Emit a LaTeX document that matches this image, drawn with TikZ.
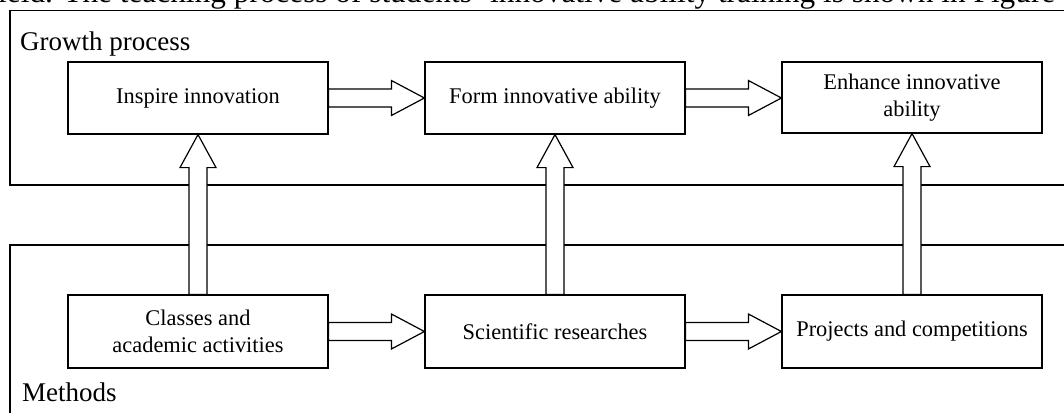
\documentclass[tikz,border=0pt]{standalone}
\usepackage{fontspec}
\setmainfont{Liberation Serif}
\usetikzlibrary{calc}
\newcommand\hollowH[2]{\filldraw[hollow] let \p1=(#1.east), \p2=(#2.west) in
  (\x1,\y1+9pt) -- (\x2-33pt,\y1+9pt) -- (\x2-33pt,\y1+17.5pt) -- (\x2,\y1)
  -- (\x2-33pt,\y1-17.5pt) -- (\x2-33pt,\y1-9pt) -- (\x1,\y1-9pt) -- cycle;}
\newcommand\hollowV[2]{\filldraw[hollow] let \p1=(#1.north), \p2=(#2.south) in
  (\x1-9pt,\y1) -- (\x1-9pt,\y2-33pt) -- (\x1-18pt,\y2-33pt) -- (\x1,\y2)
  -- (\x1+18pt,\y2-33pt) -- (\x1+9pt,\y2-33pt) -- (\x1+9pt,\y1) -- cycle;}
\begin{document}
\begin{tikzpicture}[x=1pt,y=-1pt,
  box/.style={draw, line width=1.2pt, minimum width=260pt, minimum height=72pt,
    align=center, inner sep=0pt, font=\fontsize{22.4}{26.5}\selectfont},
  hollow/.style={draw, fill=white, line width=1.2pt, line join=miter},
  frameline/.style={line width=1.4pt},
  lbl/.style={anchor=base west, inner sep=0pt, font=\fontsize{27}{32}\selectfont}]
\useasboundingbox (0,0) rectangle (1064,412);
\begin{scope}
\clip (0,0) rectangle (1064,412);
\node[anchor=base west, inner sep=0pt, font=\fontsize{31.3}{36}\selectfont] (cut) at (-2,2.5)
  {ield. The teaching process of students' innovative ability training is shown in Figure};
\coordinate (g1) at (1070,10.5);
\coordinate (g2) at (10,10.5);
\coordinate (g3) at (10,185);
\coordinate (g4) at (1070,185);
\draw[frameline, line width=1.8pt] (g1) -- (g2) -- (g3) -- (g4);
\coordinate (m1) at (1070,245);
\coordinate (m2) at (10,245);
\coordinate (m3) at (10,420);
\draw[frameline] (m1) -- (m2) -- (m3);
\end{scope}
\node[lbl] (growth) at (20,50) {Growth process};
\node[lbl] (methods) at (22,401) {Methods};
\node[box] (t1) at (198,98) {Inspire innovation};
\node[box] (t2) at (555,98) {Form innovative ability};
\node[box, minimum height=71pt] (t3) at (912,97.5) {Enhance innovative\\ability};
\node[box, minimum height=73pt] (b1) at (198,331.5) {Classes and\\academic activities};
\node[box, minimum height=73pt] (b2) at (555,331.5) {Scientific researches};
\node[box, minimum height=73pt] (b3) at (912,331.5) {Projects and competitions};
\hollowV{b1}{t1}
\hollowV{b2}{t2}
\hollowV{b3}{t3}
\hollowH{t1}{t2}
\hollowH{t2}{t3}
\hollowH{b1}{b2}
\hollowH{b2}{b3}
\end{tikzpicture}
\end{document}
